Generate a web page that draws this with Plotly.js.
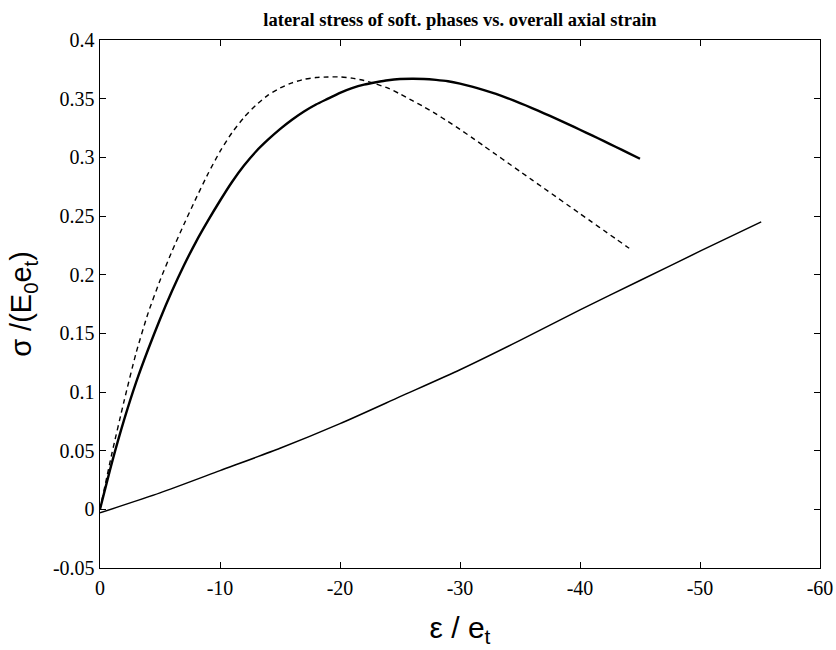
<!DOCTYPE html>
<html>
<head>
<meta charset="utf-8">
<script src="https://cdn.plot.ly/plotly-3.0.1.min.js"></script>
<style>html,body{margin:0;padding:0;background:#fff;}#chart{width:836px;height:650px;}</style>
</head>
<body>
<div id="chart"></div>
<script>
// Thick solid curve
const xThick = [0,-1,-2,-3,-4,-5,-6,-7,-8,-9,-10,-11,-12,-13,-14,-15,-16,-17,-18,-19,-20,-21,-22,-23,-24,-25,-26,-27,-28,-29,-30,-31,-32,-33,-34,-35,-36,-37,-38,-39,-40,-41,-42,-43,-44,-45];
const yThick = [0,0.040,0.076,0.108,0.136,0.162,0.186,0.208,0.228,0.246,0.263,0.279,0.293,0.305,0.315,0.324,0.332,0.339,0.345,0.350,0.355,0.359,0.362,0.364,0.3657,0.3667,0.367,0.3668,0.366,0.3648,0.3628,0.3603,0.3573,0.354,0.3503,0.3463,0.342,0.3375,0.333,0.3283,0.3235,0.3187,0.3138,0.3088,0.3038,0.2988];
// Dashed curve
const xDash = [0,-1,-2,-3,-4,-5,-6,-7,-8,-9,-10,-11,-12,-13,-14,-15,-16,-17,-18,-19,-20,-21,-22,-23,-24,-25,-26,-27,-28,-29,-30,-31,-32,-33,-34,-35,-36,-37,-38,-39,-40,-41,-42,-43,-44,-44.1];
const yDash = [0,0.048,0.092,0.133,0.167,0.195,0.220,0.243,0.265,0.286,0.305,0.321,0.334,0.3445,0.353,0.359,0.3635,0.3665,0.368,0.3685,0.3685,0.3675,0.3655,0.3625,0.359,0.354,0.3485,0.343,0.337,0.3305,0.3238,0.3168,0.3096,0.3024,0.2952,0.288,0.2808,0.2736,0.2664,0.2592,0.252,0.2448,0.2376,0.2304,0.2232,0.2225];
// Thin solid line
const xThin = [0,-5,-10,-15,-20,-25,-30,-35,-40,-45,-50,-55.1];
const yThin = [-0.003,0.014,0.033,0.052,0.073,0.096,0.119,0.144,0.170,0.195,0.220,0.245];

const xTickVals = [0,-10,-20,-30,-40,-50,-60];
const xTickText = ["0","-10","-20","-30","-40","-50","-60"];
const yTickVals = [-0.05,0,0.05,0.1,0.15,0.2,0.25,0.3,0.35,0.4];
const yTickText = ["-0.05","0","0.05","0.1","0.15","0.2","0.25","0.3","0.35","0.4"];

const traces = [
  {x: xThick, y: yThick, mode: 'lines', line: {color: '#000', width: 2.4, shape: 'spline', smoothing: 0.6}, hoverinfo: 'skip'},
  {x: xDash, y: yDash, mode: 'lines', line: {color: '#000', width: 1.4, dash: '5px,4px', shape: 'spline', smoothing: 0.6}, hoverinfo: 'skip'},
  {x: xThin, y: yThin, mode: 'lines', line: {color: '#000', width: 1.5, shape: 'spline', smoothing: 0.6}, hoverinfo: 'skip'}
];

const axCommon = {
  showgrid: false, zeroline: false, showline: true, linecolor: '#000', linewidth: 1.4,
  mirror: 'ticks', ticks: 'inside', ticklen: 6, tickcolor: '#000', tickwidth: 1,
  tickfont: {family: 'Liberation Serif, Times New Roman, serif', size: 20, color: '#000'}
};

const layout = {
  width: 836, height: 650,
  margin: {l: 100, r: 16, t: 40, b: 82},
  paper_bgcolor: '#fff', plot_bgcolor: '#fff',
  showlegend: false,
  title: {text: 'lateral stress of soft. phases vs. overall axial strain',
          font: {family: 'Liberation Serif, Times New Roman, serif', size: 18.5, color: '#000', weight: 'bold'},
          xref: 'paper', x: 0.5, xanchor: 'center', yref: 'container', y: 0.97, yanchor: 'middle'},
  xaxis: Object.assign({}, axCommon, {
    range: [0, -60], tickvals: xTickVals, ticktext: xTickText, ticklabelstandoff: 2,
    title: {text: 'ε / e<sub>t</sub>', font: {family: 'Liberation Sans, Arial, sans-serif', size: 30, color: '#000'}, standoff: 18}
  }),
  yaxis: Object.assign({}, axCommon, {
    range: [-0.05, 0.4], tickvals: yTickVals, ticktext: yTickText,
    title: {text: 'σ /(E<sub>0</sub>e<sub>t</sub>)', font: {family: 'Liberation Sans, Arial, sans-serif', size: 29, color: '#000'}, standoff: 12}
  })
};

Plotly.newPlot('chart', traces, layout, {staticPlot: true, displayModeBar: false});
</script>
</body>
</html>
